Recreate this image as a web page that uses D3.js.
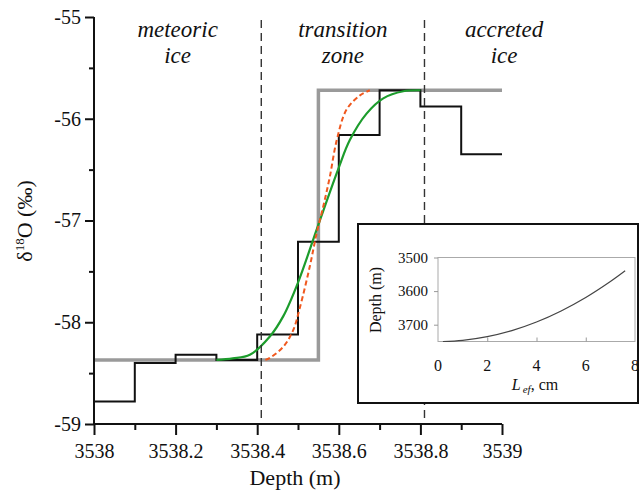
<!DOCTYPE html>
<html>
<head>
<meta charset="utf-8">
<script src="https://cdn.jsdelivr.net/npm/d3@7"></script>
<style>
  body { margin: 0; background: #fff; }
  svg { display: block; }
  text { font-family: "Liberation Serif", "Times New Roman", serif; fill: #111; }
</style>
</head>
<body>
<svg id="chart" width="640" height="495"></svg>
<script>
// measured steps (black)
var stepEdges = [3538, 3538.1, 3538.2, 3538.3, 3538.4, 3538.5, 3538.6, 3538.7, 3538.8, 3538.9, 3539];
var stepValues = [-58.78, -58.40, -58.32, -58.37, -58.12, -57.21, -56.16, -55.72, -55.88, -56.35];

// initial step profile (gray)
var modelDepths = [3538, 3538.55, 3539];
var modelValues = [-58.37, -55.72, -55.72];

// diffused profile, wider (green)
var greenDepths = [3538.30, 3538.34, 3538.382, 3538.431, 3538.464, 3538.50, 3538.55, 3538.60, 3538.627, 3538.668, 3538.709, 3538.758, 3538.80];
var greenValues = [-58.37, -58.355, -58.32, -58.14, -57.94, -57.61, -57.04, -56.48, -56.21, -55.95, -55.80, -55.73, -55.72];

// diffused profile, narrower (orange dashed)
var orangeDepths = [3538.42, 3538.431, 3538.464, 3538.488, 3538.505, 3538.529, 3538.546, 3538.562, 3538.578, 3538.595, 3538.619, 3538.652, 3538.676];
var orangeValues = [-58.37, -58.35, -58.24, -58.08, -57.85, -57.45, -57.12, -56.86, -56.57, -56.21, -55.91, -55.77, -55.72];

// zone boundaries and names
var zoneBounds = [3538, 3538.41, 3538.81, 3539.2];
var zoneNames = [["meteoric", "ice"], ["transition", "zone"], ["accreted", "ice"]];

// axis ticks
var yMajor = [-59, -58, -57, -56, -55];
var yMinor = [-58.5, -57.5, -56.5, -55.5];
var xMajor = [3538, 3538.2, 3538.4, 3538.6, 3538.8, 3539];
var xMinor = [3538.1, 3538.3, 3538.5, 3538.7, 3538.9];

// inset: diffusion length vs depth
var insetL = [0.2, 1, 2, 3, 4, 5, 6, 7, 7.6];
var insetDepth = [3750, 3746.5, 3735.5, 3717.5, 3692, 3659, 3619, 3571.5, 3539.5];
var insetXTicks = [0, 2, 4, 6, 8];
var insetYTicks = [3500, 3600, 3700];

var svg = d3.select("#chart");

var x = d3.scaleLinear().domain([3538, 3539]).range([94, 502]);
var y = d3.scaleLinear().domain([-59, -55]).range([424, 17]);

var line = d3.line().x(function(d){ return x(d[0]); }).y(function(d){ return y(d[1]); });

// gray initial profile
var modelPts = modelDepths.map(function(d, i){ return [d, modelValues[i]]; });
svg.append("path")
  .attr("d", line.curve(d3.curveStepAfter)(modelPts))
  .attr("fill", "none").attr("stroke", "#9a9a9a").attr("stroke-width", 3.5);

// black measured steps
var stepPts = stepValues.map(function(v, i){ return [stepEdges[i], v]; });
stepPts.push([stepEdges[stepEdges.length - 1], stepValues[stepValues.length - 1]]);
svg.append("path")
  .attr("d", line.curve(d3.curveStepAfter)(stepPts))
  .attr("fill", "none").attr("stroke", "#111").attr("stroke-width", 2);

var greenPts = greenDepths.map(function(d, i){ return [d, greenValues[i]]; });
svg.append("path")
  .attr("d", line.curve(d3.curveCatmullRom.alpha(0.5))(greenPts))
  .attr("fill", "none").attr("stroke", "#1c9c2c").attr("stroke-width", 2.2);

var orangePts = orangeDepths.map(function(d, i){ return [d, orangeValues[i]]; });
svg.append("path")
  .attr("d", line.curve(d3.curveCatmullRom.alpha(0.5))(orangePts))
  .attr("fill", "none").attr("stroke", "#f0581e").attr("stroke-width", 2)
  .attr("stroke-dasharray", "5,3");

// zone dividers
svg.selectAll(".divider").data(zoneBounds.slice(1, 3)).enter().append("line")
  .attr("x1", function(d){ return x(d); }).attr("x2", function(d){ return x(d); })
  .attr("y1", y(-55.03)).attr("y2", y(-59))
  .attr("stroke", "#333").attr("stroke-width", 1.4).attr("stroke-dasharray", "8,5");

// zone labels
zoneNames.forEach(function(lines, i){
  var cx = x((zoneBounds[i] + zoneBounds[i + 1]) / 2);
  var t = svg.append("text").attr("text-anchor", "middle")
    .attr("font-style", "italic").attr("font-size", 23);
  t.append("tspan").attr("x", cx).attr("y", 37).text(lines[0]);
  t.append("tspan").attr("x", cx).attr("y", 63).text(lines[1]);
});

// y axis
var gy = svg.append("g").attr("transform", "translate(" + x(3538) + ",0)");
gy.call(d3.axisLeft(y).tickValues(yMajor).tickSize(9).tickPadding(4).tickFormat(function(d){ return String(d); }));
gy.append("g").call(d3.axisLeft(y).tickValues(yMinor).tickSize(5).tickFormat(""));
gy.selectAll("path, line").attr("stroke", "#111").attr("stroke-width", 2);
gy.selectAll("path.domain").attr("d", "M0," + y(-59) + "V" + y(-55));
gy.selectAll("g g path.domain").remove();
gy.selectAll("text").attr("font-size", 20).attr("fill", "#111");

// x axis
var gx = svg.append("g").attr("transform", "translate(0," + y(-59) + ")");
gx.call(d3.axisBottom(x).tickValues(xMajor).tickSize(11).tickPadding(9).tickFormat(function(d){ return String(+d.toFixed(1)); }));
gx.append("g").call(d3.axisBottom(x).tickValues(xMinor).tickSize(6).tickFormat(""));
gx.selectAll("path, line").attr("stroke", "#111").attr("stroke-width", 2);
gx.selectAll("path.domain").attr("d", "M" + x(3538) + ",0H" + x(3539));
gx.selectAll("g g path.domain").remove();
gx.selectAll("text").attr("font-size", 20).attr("fill", "#111");

// axis titles
svg.append("text").attr("x", 295).attr("y", 485).attr("text-anchor", "middle")
  .attr("font-size", 22).text("Depth (m)");

var yt = svg.append("text").attr("transform", "translate(32,221) rotate(-90)")
  .attr("text-anchor", "middle").attr("font-size", 22);
yt.append("tspan").text("δ");
yt.append("tspan").attr("font-size", 13).attr("dy", -8).text("18");
yt.append("tspan").attr("dy", 8).text("O (‰)");

// inset
var inset = svg.append("g");
inset.append("rect").attr("x", 358).attr("y", 224).attr("width", 280).attr("height", 179)
  .attr("fill", "#fff").attr("stroke", "#111").attr("stroke-width", 2);

var ix = d3.scaleLinear().domain([0, 8]).range([438, 635]);
var iy = d3.scaleLinear().domain([3500, 3750]).range([257.5, 341.5]);

inset.append("rect").attr("x", ix(0)).attr("y", iy(3500))
  .attr("width", ix(8) - ix(0)).attr("height", iy(3750) - iy(3500))
  .attr("fill", "none").attr("stroke", "#aaa").attr("stroke-width", 1);

var gix = inset.append("g").attr("transform", "translate(0," + iy(3750) + ")");
gix.call(d3.axisTop(ix).tickValues(insetXTicks.slice(1, 4)).tickSize(4).tickFormat(""));
gix.selectAll("path.domain").remove();
gix.selectAll("line").attr("stroke", "#999");
inset.selectAll(".ixl").data(insetXTicks).enter().append("text")
  .attr("x", function(d){ return ix(d); }).attr("y", 371)
  .attr("text-anchor", "middle").attr("font-size", 16).text(function(d){ return d; });

var giy = inset.append("g").attr("transform", "translate(" + ix(0) + ",0)");
giy.call(d3.axisLeft(iy).tickValues(insetYTicks).tickSize(4).tickPadding(6).tickFormat(function(d){ return String(d); }));
giy.selectAll("path.domain").remove();
giy.selectAll("line").attr("stroke", "#999");
giy.selectAll("text").attr("font-size", 15).attr("fill", "#111");

var insetPts = insetL.map(function(l, i){ return [l, insetDepth[i]]; });
inset.append("path")
  .attr("d", d3.line().x(function(d){ return ix(d[0]); }).y(function(d){ return iy(d[1]); })
    .curve(d3.curveCatmullRom.alpha(0.5))(insetPts))
  .attr("fill", "none").attr("stroke", "#444").attr("stroke-width", 1.2);

inset.append("text").attr("transform", "translate(381,300) rotate(-90)")
  .attr("text-anchor", "middle").attr("font-size", 16).text("Depth (m)");

var xl = inset.append("text").attr("x", 535).attr("y", 390).attr("text-anchor", "middle").attr("font-size", 16);
xl.append("tspan").attr("font-style", "italic").text("L");
xl.append("tspan").attr("font-style", "italic").attr("font-size", 11).attr("dy", 3).attr("dx", 2).text("ef");
xl.append("tspan").attr("dy", -3).text(", cm");
</script>
</body>
</html>
